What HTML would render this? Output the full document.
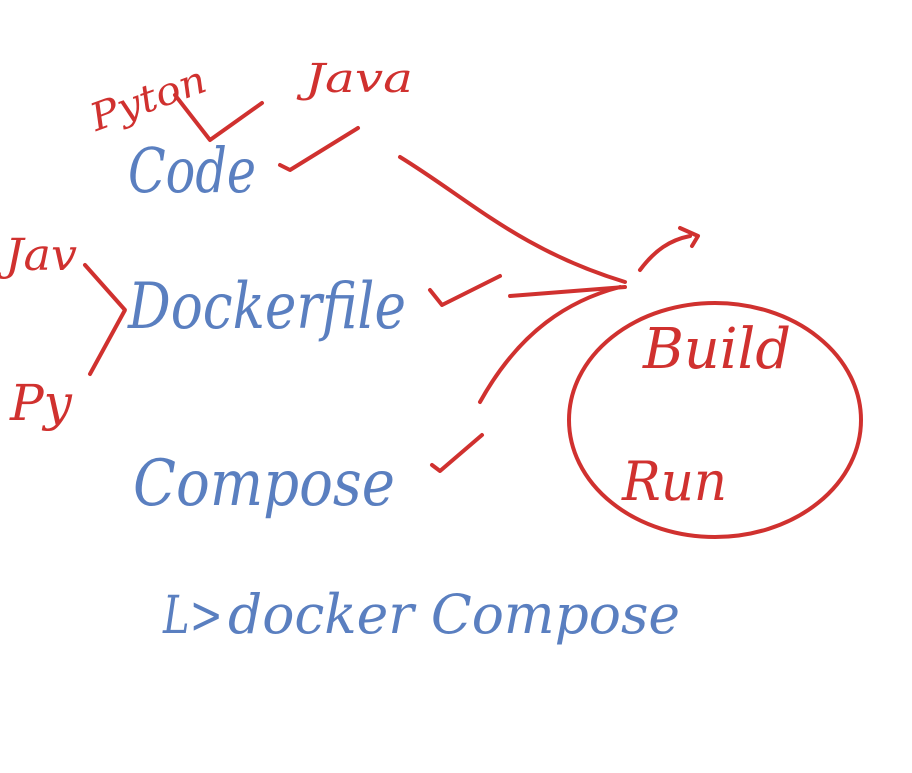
<!DOCTYPE html>
<html><head><meta charset="utf-8"><style>
html,body{margin:0;padding:0;background:#fff;}
svg{display:block;}
text{font-family:"DejaVu Serif","Liberation Serif",serif;font-style:italic;}
</style></head><body>
<svg width="912" height="773" viewBox="0 0 912 773" xmlns="http://www.w3.org/2000/svg">
<g fill="none" stroke="#d0312f" stroke-width="4" stroke-linecap="round" stroke-linejoin="round">
<path d="M175,95 L210,140 L262,103"/>
<path d="M280,165 L290,170 L358,128"/>
<path d="M400,157 C470,200 520,250 625,282"/>
<path d="M510,296 L625,287"/>
<path d="M430,290 L442,305 L500,276"/>
<path d="M480,402 C520,330 570,300 620,287"/>
<path d="M432,465 L440,471 L482,435"/>
<path d="M640,270 C655,250 670,240 690,236 M680,228 L698,236 L692,246"/>
<path d="M85,265 L125,310 L90,374"/>
<ellipse cx="715" cy="420" rx="146" ry="117"/>
</g>
<g fill="#d0312f">
<text x="85" y="112" transform="rotate(-20 145 90)" font-size="38" textLength="120" lengthAdjust="spacingAndGlyphs">Pyton</text>
<text x="305" y="92" font-size="40" textLength="108" lengthAdjust="spacingAndGlyphs">Java</text>
<text x="5" y="270" font-size="44" textLength="72" lengthAdjust="spacingAndGlyphs">Jav</text>
<text x="10" y="420" font-size="50">Py</text>
<text x="643" y="368" font-size="56" textLength="148" lengthAdjust="spacingAndGlyphs">Build</text>
<text x="622" y="500" font-size="54" textLength="105" lengthAdjust="spacingAndGlyphs">Run</text>
</g>
<g fill="#5a7fc0">
<text x="128" y="192" font-size="62" textLength="128" lengthAdjust="spacingAndGlyphs">Code</text>
<text x="128" y="328" font-size="64" textLength="278" lengthAdjust="spacingAndGlyphs">Dockerfile</text>
<text x="133" y="505" font-size="64" textLength="262" lengthAdjust="spacingAndGlyphs">Compose</text>
<text x="163" y="633" font-size="52" textLength="60" lengthAdjust="spacingAndGlyphs">L&gt;</text>
<text x="228" y="633" font-size="54" textLength="452" lengthAdjust="spacingAndGlyphs">docker Compose</text>
</g>
</svg>
</body></html>
